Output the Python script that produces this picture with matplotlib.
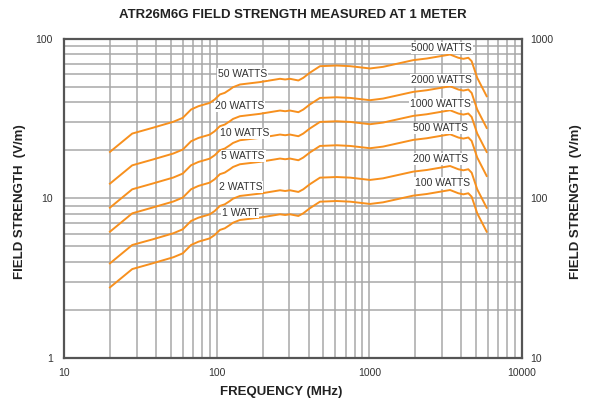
import matplotlib
matplotlib.use("Agg")
import matplotlib.pyplot as plt
from matplotlib.ticker import FixedLocator, NullFormatter, LogLocator

plt.rcParams['font.family'] = ['Liberation Sans', 'DejaVu Sans']

freq_mhz = [20, 28, 38, 52, 60, 68, 76, 90, 97, 105, 113, 122, 128, 142, 192, 260,
            281, 302, 343, 369, 408, 475, 611, 750, 1010, 1230, 1940, 2380, 3380,
            3830, 4130, 4450, 4680, 5090, 5870]

w1 = [2.77, 3.61, 3.92, 4.28, 4.53, 5.11, 5.36, 5.62, 5.90, 6.35, 6.50, 6.82, 7.05, 7.33,
      7.59, 7.96, 7.88, 7.96, 7.77, 8.07, 8.69, 9.55, 9.64, 9.55, 9.24, 9.46, 10.42,
      10.67, 11.30, 10.78, 10.62, 10.78, 10.26, 8.07, 6.19]
w2 = [3.92, 5.11, 5.54, 6.05, 6.41, 7.23, 7.58, 7.95, 8.34, 8.98, 9.19, 9.64, 9.97, 10.37,
      10.73, 11.26, 11.14, 11.26, 10.99, 11.41, 12.29, 13.51, 13.63, 13.51, 13.07, 13.38,
      14.74, 15.09, 15.98, 15.25, 15.02, 15.25, 14.51, 11.41, 8.75]
w5 = [6.19, 8.07, 8.77, 9.57, 10.13, 11.43, 11.99, 12.57, 13.19, 14.20, 14.53, 15.25,
      15.76, 16.39, 16.97, 17.80, 17.62, 17.80, 17.37, 18.05, 19.43, 21.35, 21.56, 21.35,
      20.66, 21.15, 23.30, 23.86, 25.27, 24.11, 23.75, 24.11, 22.94, 18.05, 13.84]
w10 = [8.76, 11.42, 12.40, 13.53, 14.33, 16.16, 16.95, 17.77, 18.66, 20.08, 20.56, 21.57,
       22.29, 23.18, 24.00, 25.17, 24.92, 25.17, 24.57, 25.52, 27.48, 30.20, 30.48, 30.20,
       29.22, 29.92, 32.95, 33.74, 35.73, 34.09, 33.58, 34.09, 32.45, 25.52, 19.57]
w20 = [12.39, 16.14, 17.53, 19.14, 20.26, 22.85, 23.97, 25.13, 26.39, 28.40, 29.07, 30.50,
       31.53, 32.78, 33.94, 35.60, 35.24, 35.60, 34.75, 36.09, 38.86, 42.71, 43.11, 42.71,
       41.32, 42.31, 46.60, 47.72, 50.53, 48.21, 47.49, 48.21, 45.88, 36.09, 27.68]
w50 = [19.59, 25.53, 27.72, 30.26, 32.03, 36.13, 37.90, 39.74, 41.72, 44.90, 45.96, 48.22,
       49.85, 51.83, 53.67, 56.29, 55.72, 56.29, 54.94, 57.06, 61.45, 67.53, 68.17, 67.53,
       65.34, 66.89, 73.68, 75.45, 79.90, 76.23, 75.10, 76.23, 72.55, 57.06, 43.77]

series = [w1, w2, w5, w10, w20, w50]

left_labels = ["1 WATT", "2 WATTS", "5 WATTS", "10 WATTS", "20 WATTS", "50 WATTS"]
left_label_x = [142, 144, 149, 153, 142, 147]
left_label_y = [8.15, 11.86, 18.5, 25.6, 37.8, 60.3]
right_labels = ["100 WATTS", "200 WATTS", "500 WATTS", "1000 WATTS", "2000 WATTS", "5000 WATTS"]
right_label_x = [3020, 2933, 2933, 2904, 2979, 2979]
right_label_y = [12.45, 17.7, 27.5, 39.1, 55.3, 87.4]

left_ticks = [1, 10, 100]
right_ticks = [10, 100, 1000]
x_ticks = [10, 100, 1000, 10000]

orange = '#f7901e'
txt = '#333333'

fig = plt.figure(figsize=(5.94, 4.04), dpi=100)
ax = fig.add_axes([0.1077, 0.1139, 0.7711, 0.7896])
ax.set_xscale('log')
ax.set_yscale('log')
ax.set_xlim(10, 10000)
ax.set_ylim(1, 100)

# grid
ax.xaxis.set_major_locator(FixedLocator(x_ticks))
ax.xaxis.set_minor_locator(LogLocator(base=10, subs=range(2, 10)))
ax.yaxis.set_major_locator(FixedLocator(left_ticks))
ax.yaxis.set_minor_locator(LogLocator(base=10, subs=range(2, 10)))
ax.xaxis.set_minor_formatter(NullFormatter())
ax.yaxis.set_minor_formatter(NullFormatter())
ax.set_xticklabels([str(t) for t in x_ticks])
ax.set_yticklabels([str(t) for t in left_ticks])
ax.grid(True, which='both', color='#a8a8a8', linewidth=1.1)
ax.set_axisbelow(True)
ax.tick_params(which='both', length=0, labelsize=7.5, colors=txt)
ax.tick_params(axis='y', pad=8)
ax.tick_params(axis='x', pad=7)
for s in ax.spines.values():
    s.set_color('#555555')
    s.set_linewidth(1.6)

for ys in series:
    ax.plot(freq_mhz, ys, color=orange, linewidth=1.4, zorder=3)

bb = dict(facecolor='white', edgecolor='none', pad=0.6)
for lab, xx, yy in zip(left_labels, left_label_x, left_label_y):
    ax.text(xx, yy, lab, ha='center', va='center', fontsize=7.5, color=txt, bbox=bb, zorder=4)
for lab, xx, yy in zip(right_labels, right_label_x, right_label_y):
    ax.text(xx, yy, lab, ha='center', va='center', fontsize=7.5, color=txt, bbox=bb, zorder=4)

ax2 = ax.twinx()
ax2.set_yscale('log')
ax2.set_ylim(10, 1000)
ax2.yaxis.set_major_locator(FixedLocator(right_ticks))
ax2.yaxis.set_minor_locator(LogLocator(base=10, subs=range(2, 10)))
ax2.yaxis.set_minor_formatter(NullFormatter())
ax2.set_yticklabels([str(t) for t in right_ticks])
ax2.tick_params(which='both', length=0, labelsize=7.5, colors=txt, pad=6)
for s in ax2.spines.values():
    s.set_visible(False)

ax.set_xlabel('FREQUENCY (MHz)', fontsize=9.5, fontweight='bold', color='#222222')
ax.xaxis.set_label_coords(0.475, -0.088)
ax.set_ylabel('FIELD STRENGTH  (V/m)', fontsize=9.5, fontweight='bold', color='#222222')
ax.yaxis.set_label_coords(-0.083, 0.49)
ax2.set_ylabel('FIELD STRENGTH  (V/m)', fontsize=9.5, fontweight='bold', color='#222222')
ax2.yaxis.set_label_coords(1.105, 0.49)
fig.text(0.493, 0.962, 'ATR26M6G FIELD STRENGTH MEASURED AT 1 METER', ha='center', va='center',
         fontsize=9.5, fontweight='bold', color='#222222')

fig.savefig('out.png', dpi=100)
